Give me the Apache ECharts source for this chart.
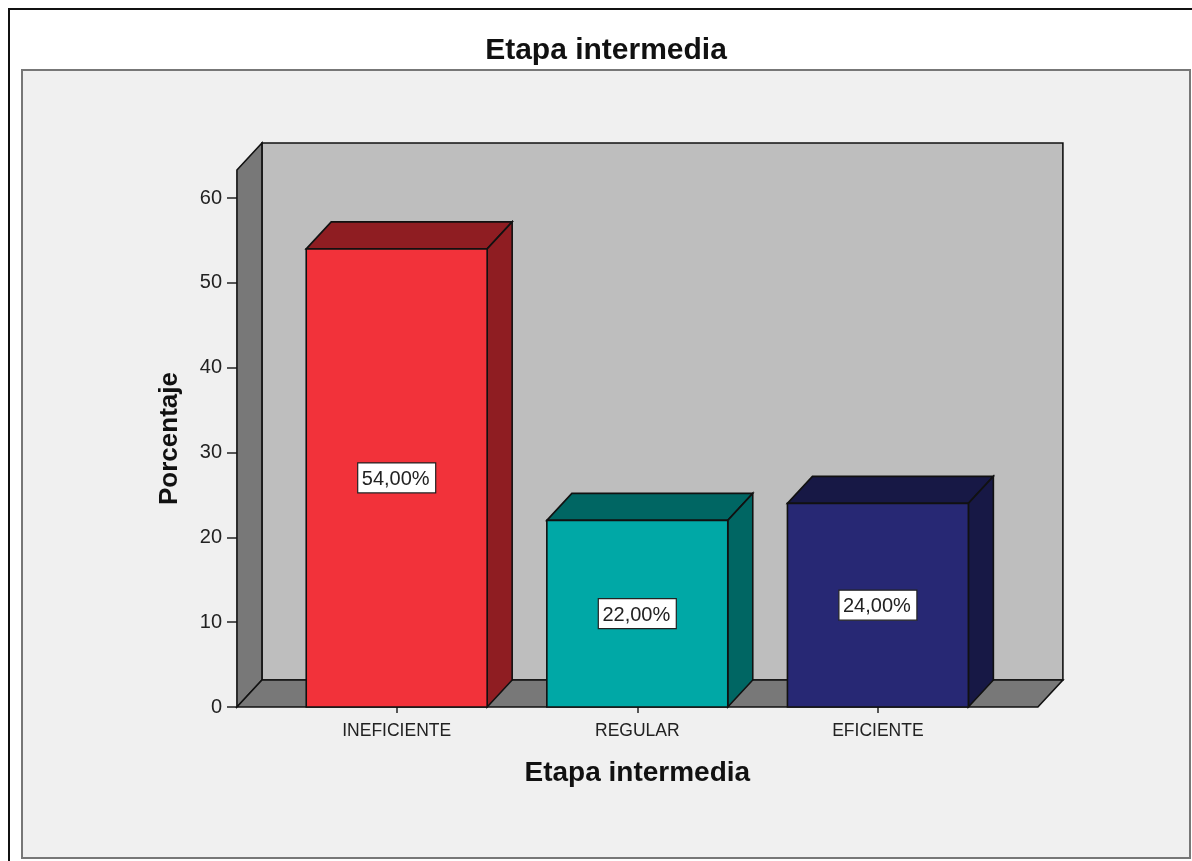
<!DOCTYPE html>
<html><head><meta charset="utf-8">
<style>html,body{margin:0;padding:0;background:#fff}#c{width:1192px;height:861px}</style>
<script src="https://cdn.jsdelivr.net/npm/echarts@6/dist/echarts.min.js"></script>
</head><body><div id="c"></div>
<script>
const chartTitle = 'Etapa intermedia';
const xAxisTitle = 'Etapa intermedia';
const yAxisTitle = 'Porcentaje';
const categories = ['INEFICIENTE', 'REGULAR', 'EFICIENTE'];
const percentages = [54, 22, 24];
const yTicks = [0, 10, 20, 30, 40, 50, 60];
const frontColors = ['#f2323a', '#00a8a6', '#272874'];
const shadeColors = ['#8f1d22', '#006663', '#171845'];

const DX = 25, DY = -27, BAR_FRAC = 0.752, LINE = '#111', LW = 1.6;
const WALL_L = -0.664, WALL_R = 2.665, Y_TOP = 63.3;

const chart = echarts.init(document.getElementById('c'), null, {renderer: 'canvas'});

function poly(points, fill) {
  return {type: 'polygon', shape: {points}, style: {fill, stroke: LINE, lineWidth: LW, lineJoin: 'miter'}};
}
function renderWalls(params, api) {
  const p0 = api.coord([0, 0]), band = api.size([1, 0])[0];
  const top = api.coord([0, Y_TOP])[1], y0 = p0[1];
  const xl = p0[0] + WALL_L * band, xr = p0[0] + WALL_R * band;
  return {type: 'group', children: [
    poly([[xl + DX, top + DY], [xr + DX, top + DY], [xr + DX, y0 + DY], [xl + DX, y0 + DY]], '#bebebe'),
    poly([[xl, top], [xl + DX, top + DY], [xl + DX, y0 + DY], [xl, y0]], '#787878'),
    poly([[xl, y0], [xl + DX, y0 + DY], [xr + DX, y0 + DY], [xr, y0]], '#787878')
  ]};
}
function renderBar(params, api) {
  const i = api.value(0), v = api.value(1);
  const c = api.coord([i, v]), b = api.coord([i, 0]);
  const hw = api.size([1, 0])[0] * BAR_FRAC / 2;
  const l = c[0] - hw, r = c[0] + hw, t = c[1], y0 = b[1];
  const mid = api.coord([i, v / 2]);
  return {type: 'group', children: [
    poly([[l, t], [l + DX, t + DY], [r + DX, t + DY], [r, t]], shadeColors[i]),
    poly([[r, t], [r + DX, t + DY], [r + DX, y0 + DY], [r, y0]], shadeColors[i]),
    poly([[l, t], [r, t], [r, y0], [l, y0]], frontColors[i]),
    {type: 'rect', shape: {x: mid[0] - 39, y: mid[1] - 15, width: 78, height: 30},
     style: {fill: '#fff', stroke: '#222', lineWidth: 1.2}},
    {type: 'text', x: mid[0] - 1, y: mid[1] + 1.5, style: {
      text: v.toFixed(2).replace('.', ',') + '%', align: 'center', verticalAlign: 'middle',
      font: '20px "Liberation Sans"', fill: '#222'}}
  ]};
}

chart.setOption({
  animation: false,
  backgroundColor: '#fff',
  title: {text: chartTitle, left: 601, top: 31, textAlign: 'center',
    textStyle: {fontFamily: 'Liberation Sans', fontWeight: 'bold', fontSize: 30, color: '#111'}},
  grid: {left: 276.4, width: 721.8, top: 170, height: 537},
  xAxis: {type: 'category', data: categories,
    name: xAxisTitle, nameLocation: 'middle', nameGap: 52,
    nameTextStyle: {fontFamily: 'Liberation Sans', fontWeight: 'bold', fontSize: 28, color: '#111'},
    axisLine: {show: false},
    axisTick: {show: true, alignWithLabel: true, length: 6, lineStyle: {color: '#222', width: 1.5}},
    axisLabel: {fontFamily: 'Liberation Sans', fontSize: 17.5, color: '#222', margin: 15}},
  yAxis: {type: 'value', min: 0, max: Y_TOP, offset: 39.4,
    name: yAxisTitle, nameLocation: 'middle', nameGap: 54,
    nameTextStyle: {fontFamily: 'Liberation Sans', fontWeight: 'bold', fontSize: 26, color: '#111'},
    splitLine: {show: false},
    axisLine: {show: false},
    axisTick: {show: true, length: 10, customValues: yTicks, lineStyle: {color: '#222', width: 1.5}},
    axisLabel: {fontFamily: 'Liberation Sans', fontSize: 20, color: '#222', margin: 15, padding: [4, 0, 0, 0], customValues: yTicks}},
  graphic: [
    {type: 'rect', z: -10, silent: true, shape: {x: 9, y: 9, width: 1190, height: 860},
     style: {fill: '#fff', stroke: '#111', lineWidth: 2}},
    {type: 'rect', z: -9, silent: true, shape: {x: 22, y: 70, width: 1168, height: 788},
     style: {fill: '#f0f0f0', stroke: '#777', lineWidth: 2}}
  ],
  series: [
    {type: 'custom', coordinateSystem: 'cartesian2d', renderItem: renderWalls, z: 1, clip: false,
     data: [[0, 0]], encode: {x: 0, y: 1}, silent: true},
    {type: 'custom', coordinateSystem: 'cartesian2d', renderItem: renderBar, z: 2, clip: false,
     data: percentages.map((v, i) => [i, v]), encode: {x: 0, y: 1}, silent: true}
  ]
});
</script></body></html>
